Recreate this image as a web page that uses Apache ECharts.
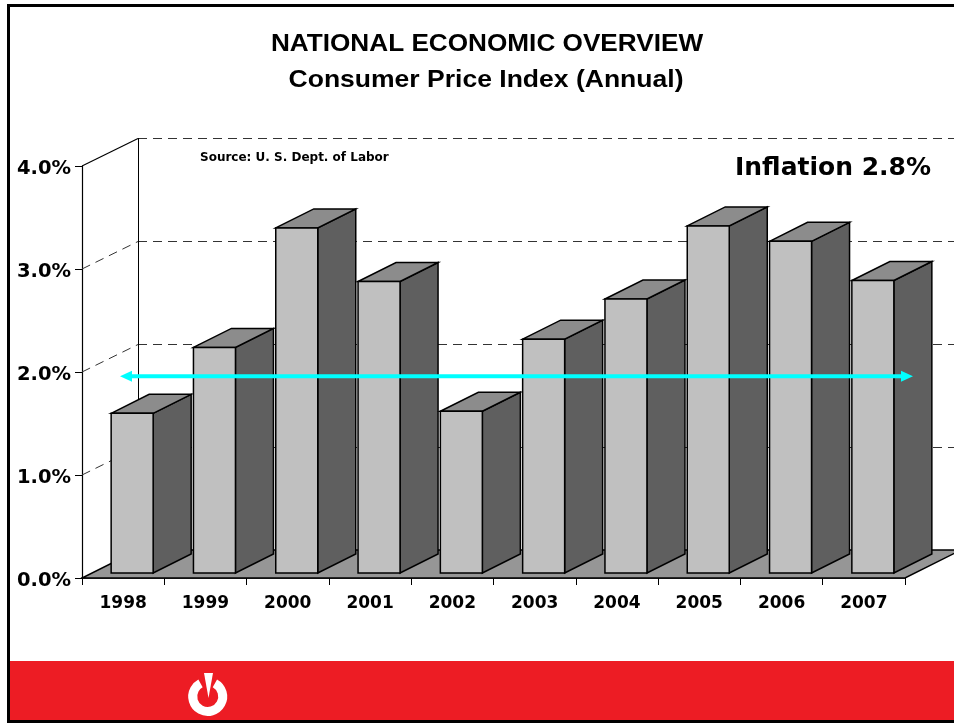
<!DOCTYPE html>
<html>
<head>
<meta charset="utf-8">
<style>html,body{margin:0;padding:0;background:#fff}#chart{width:954px;height:723px}</style>
<script src="https://cdn.jsdelivr.net/npm/echarts@6/dist/echarts.min.js"></script>
</head>
<body>
<div id="chart"></div>
<script>
const years = ['1998','1999','2000','2001','2002','2003','2004','2005','2006','2007'];
const cpi = [1.55,2.19,3.35,2.83,1.57,2.27,2.66,3.37,3.22,2.84];
const gridLevels = [1,2,3,4];
const referenceLevel = [1.91];
const titleLine1 = 'NATIONAL ECONOMIC OVERVIEW';
const titleLine2 = 'Consumer Price Index (Annual)';
const sourceNote = 'Source: U. S. Dept. of Labor';
const inflationNote = 'Inflation 2.8%';

const FONT = '"DejaVu Sans"';
const WALL_DX = 56, WALL_DY = -28;
const BAR_W = 42, SIDE_DX = 38, SIDE_DY = -19, BAR_IN_X = 9, BAR_IN_Y = -5;
const EDGE = 1.5;

function poly(points, fill, stroke, lw) {
  return {type:'polygon', shape:{points}, style:{fill, stroke, lineWidth:lw, lineJoin:'miter'}};
}
function renderFloor(params, api) {
  const cs = params.coordSys;
  const y = api.coord([0, 0])[1];
  const l = cs.x, r = cs.x + cs.width;
  return {type:'group', children:[
    poly([[l,y],[r,y],[r+WALL_DX,y+WALL_DY],[l+WALL_DX,y+WALL_DY]], '#969696', '#000', EDGE),
    {type:'line', shape:{x1:l+WALL_DX+0.5,y1:y+WALL_DY,x2:l+WALL_DX+0.5,y2:cs.y+WALL_DY}, style:{stroke:'#000',lineWidth:1}}
  ]};
}
function renderLevel(params, api) {
  const cs = params.coordSys;
  const v = api.value(0);
  const y = api.coord([0, v])[1];
  const l = cs.x, bx = l + WALL_DX, by = Math.round(y + WALL_DY) + 0.5;
  const dashed = {stroke:'#333',lineWidth:1,lineDash:[9,6]};
  const kids = [
    {type:'line', shape:{x1:bx,y1:by,x2:bx+900,y2:by}, style:dashed},
    {type:'line', shape:{x1:l,y1:y,x2:bx,y2:by}, style: v === 4 ? {stroke:'#000',lineWidth:1.2} : dashed}
  ];
  return {type:'group', children:kids};
}
function renderBar(params, api) {
  const p = api.coord([api.value(0), api.value(1)]);
  const b = api.coord([api.value(0), 0]);
  const x0 = p[0] + BAR_IN_X - BAR_W/2, x1 = x0 + BAR_W;
  const yt = p[1] + BAR_IN_Y, yb = b[1] + BAR_IN_Y;
  return {type:'group', children:[
    poly([[x1,yt],[x1+SIDE_DX,yt+SIDE_DY],[x1+SIDE_DX,yb+SIDE_DY],[x1,yb]], '#5f5f5f', '#000', EDGE),
    poly([[x0,yt],[x0+SIDE_DX,yt+SIDE_DY],[x1+SIDE_DX,yt+SIDE_DY],[x1,yt]], '#8c8c8c', '#000', EDGE),
    poly([[x0,yt],[x1,yt],[x1,yb],[x0,yb]], '#c0c0c0', '#000', EDGE)
  ]};
}
function renderArrow(params, api) {
  const cs = params.coordSys;
  const y = api.coord([0, api.value(0)])[1] + BAR_IN_Y;
  const a = cs.x + 38, c = cs.x + cs.width + 8, L = 12, H = 5.5;
  const col = '#00ffff';
  return {type:'group', children:[
    {type:'line', shape:{x1:a+L-1,y1:y,x2:c-L+1,y2:y}, style:{stroke:col,lineWidth:4}},
    poly([[a,y],[a+L,y-H],[a+L,y+H]], col, null, 0),
    poly([[c,y],[c-L,y-H],[c-L,y+H]], col, null, 0)
  ]};
}
const titleStyle = {font:'bold 24px "Liberation Sans"', fill:'#000', align:'center', verticalAlign:'middle'};
const chart = echarts.init(document.getElementById('chart'), null, {renderer:'canvas'});
chart.setOption({
  animation:false,
  backgroundColor:'#fff',
  grid:{left:82, right:49, top:166, bottom:145, containLabel:false},
  title:[
    {text:sourceNote, left:200, top:152, padding:0, textStyle:{fontFamily:FONT,fontWeight:'bold',fontSize:12,color:'#000'}},
    {text:inflationNote, left:735, top:156, padding:0, textStyle:{fontFamily:FONT,fontWeight:'bold',fontSize:25,color:'#000'}}
  ],
  xAxis:{type:'category', data:years, boundaryGap:true,
    axisLine:{show:true,lineStyle:{color:'#000',width:1.5}},
    axisTick:{show:true,length:7,alignWithLabel:false,lineStyle:{color:'#000',width:1}},
    axisLabel:{interval:0,margin:17,fontFamily:FONT,fontWeight:'bold',fontSize:17,color:'#000'},
    splitLine:{show:false}},
  yAxis:{type:'value', min:0, max:4, interval:1,
    axisLine:{show:true,onZero:false,lineStyle:{color:'#000',width:1.2}},
    axisTick:{show:true,length:7,lineStyle:{color:'#000',width:1}},
    axisLabel:{margin:11,fontFamily:FONT,fontWeight:'bold',fontSize:19.5,color:'#000',
      formatter:v=>'{a|'+v.toFixed(1)+'%}',
      rich:{a:{fontFamily:FONT,fontWeight:'bold',fontSize:19.5,color:'#000',padding:[6,0,0,0]}}},
    splitLine:{show:false}},
  graphic:[
    {type:'rect', z:-10, shape:{x:9,y:661,width:945,height:60}, style:{fill:'#ed1c24'}},
    {type:'rect', z:-9, shape:{x:8.5,y:5.5,width:960,height:716}, style:{fill:null,stroke:'#000',lineWidth:3}},
    {type:'arc', z:-8, shape:{cx:207.7,cy:696.5,r:15,startAngle:-Math.PI/2+0.5,endAngle:-Math.PI/2-0.5+2*Math.PI}, style:{fill:null,stroke:'#fff',lineWidth:9}},
    {type:'polygon', z:-8, shape:{points:[[204,673],[213,673],[208.5,698]]}, style:{fill:'#fff'}},
    {type:'text', x:487, y:44.5, scaleX:1.09, style:Object.assign({text:titleLine1}, titleStyle)},
    {type:'text', x:486, y:80, scaleX:1.105, style:Object.assign({text:titleLine2}, titleStyle)}
  ],
  series:[
    {type:'custom', name:'levels', z:1, silent:true, clip:false, coordinateSystem:'cartesian2d', renderItem:renderLevel, data:gridLevels.map(v=>[v]), encode:{y:0}},
    {type:'custom', name:'floor', z:2, silent:true, clip:false, coordinateSystem:'cartesian2d', renderItem:renderFloor, data:[[0]], encode:{y:0}},
    {type:'custom', name:'CPI', z:3, silent:true, clip:false, coordinateSystem:'cartesian2d', renderItem:renderBar, data:years.map((y,i)=>[i,cpi[i]]), encode:{x:0,y:1}},
    {type:'custom', name:'reference', z:4, silent:true, clip:false, coordinateSystem:'cartesian2d', renderItem:renderArrow, data:referenceLevel.map(v=>[v]), encode:{y:0}}
  ]
});
</script>
</body>
</html>
